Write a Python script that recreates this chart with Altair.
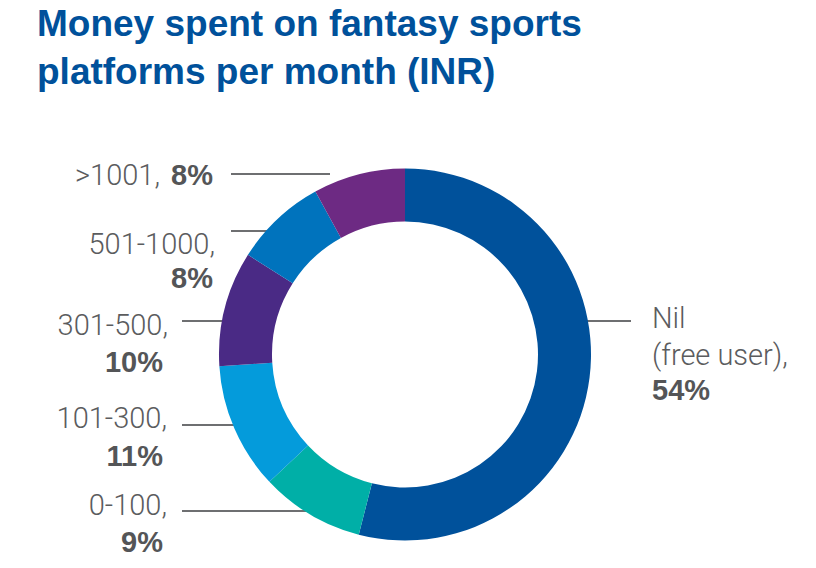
import altair as alt
import pandas as pd

# ---- data ----
categories = ["Nil (free user)", "0-100", "101-300", "301-500", "501-1000", ">1001"]
shares = [54, 9, 11, 10, 8, 8]
colors = ["#00519B", "#00AFA7", "#049BDB", "#4A2A85", "#0073BD", "#6D2A83"]
title_lines = ["Money spent on fantasy sports", "platforms per month (INR)"]

# label text pieces (regular part lines, bold part)
label_regular = [["Nil", "(free user),"], ["0-100,"], ["101-300,"], ["301-500,"], ["501-1000,"], [">1001,"]]

# ---- layout (page pixels, converted to chart space below) ----
M = 8
W, H = 800, 552
center = (405 - M, 354.5 - M)
r_in, r_out = 133, 186
reg_pos = [
    [(652, 328, "left"), (652, 365, "left")],
    [(167, 515, "right")],
    [(167, 428, "right")],
    [(168, 335, "right")],
    [(215, 254, "right")],
    [(160, 185, "right")],
]
bold_pos = [(652, 400, "left"), (163, 552, "right"), (163, 466, "right"),
            (163, 372, "right"), (213, 288, "right"), (213, 185, "right")]
leaders = [(560, 631, 321), (182, 330, 511), (182, 250, 425),
           (182, 240, 321), (231, 290, 231), (231, 330, 174)]
title_pos = [(37, 36), (37, 84)]

arc_df = pd.DataFrame({"cat": categories, "share": shares, "idx": list(range(len(categories)))})

reg_rows, bold_rows, rule_rows, title_rows = [], [], [], []
for i, cat in enumerate(categories):
    for txt, (x, y, a) in zip(label_regular[i], reg_pos[i]):
        reg_rows.append({"t": txt, "x": x - M, "y": y - M, "a": a})
    bx, by, ba = bold_pos[i]
    bold_rows.append({"t": f"{shares[i]}%", "x": bx - M, "y": by - M, "a": ba})
    x1, x2, ly = leaders[i]
    rule_rows.append({"x": x1 - M, "x2": x2 - M, "y": ly - M})
for txt, (x, y) in zip(title_lines, title_pos):
    title_rows.append({"t": txt, "x": x - M, "y": y - M})

xs = alt.Scale(domain=[0, W], range=[0, W])
ys = alt.Scale(domain=[0, H], range=[0, H])

rules = alt.Chart(pd.DataFrame(rule_rows)).mark_rule(color="#6E6F71", strokeWidth=2).encode(
    x=alt.X("x:Q", scale=xs, axis=None), x2="x2:Q", y=alt.Y("y:Q", scale=ys, axis=None)
)

arcs = alt.Chart(arc_df).mark_arc(innerRadius=r_in, outerRadius=r_out).encode(
    theta=alt.Theta("share:Q", stack=True),
    order=alt.Order("idx:Q"),
    color=alt.Color("cat:N", scale=alt.Scale(domain=categories, range=colors), legend=None),
    x=alt.value(center[0]),
    y=alt.value(center[1]),
)

def text_layer(rows, align, **kw):
    df = pd.DataFrame([r for r in rows if r.get("a", align) == align])
    return alt.Chart(df).mark_text(align=align, baseline="alphabetic", **kw).encode(
        x=alt.X("x:Q", scale=xs, axis=None), y=alt.Y("y:Q", scale=ys, axis=None), text="t:N"
    )

reg_style = dict(font="Roboto", fontWeight=300, fontSize=29, color="#5B5C5E")
bold_style = dict(font="Liberation Sans", fontWeight="bold", fontSize=29, color="#545557")

layers = [rules, arcs,
          text_layer(reg_rows, "left", **reg_style), text_layer(reg_rows, "right", **reg_style),
          text_layer(bold_rows, "left", **bold_style), text_layer(bold_rows, "right", **bold_style),
          alt.Chart(pd.DataFrame(title_rows)).mark_text(
              align="left", baseline="alphabetic", font="Liberation Sans", fontWeight="bold",
              fontSize=37, color="#00519B").encode(
              x=alt.X("x:Q", scale=xs, axis=None), y=alt.Y("y:Q", scale=ys, axis=None), text="t:N")]

chart = alt.layer(*layers).properties(
    width=W, height=H, padding=0, autosize=alt.AutoSizeParams(type="none")
).configure_view(stroke=None)

chart.save("out.html", embed_options={"renderer": "svg", "actions": False})
